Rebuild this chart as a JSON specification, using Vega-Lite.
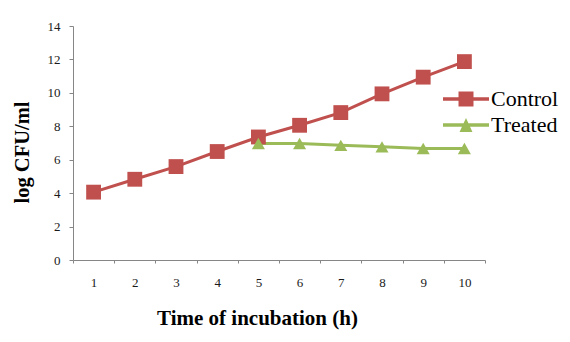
{
  "$schema": "https://vega.github.io/schema/vega-lite/v6.json",
  "autosize": {"type": "none"},
  "padding": {"left": 73, "top": 26, "right": 85, "bottom": 82},
  "width": 412,
  "height": 234,
  "background": "white",
  "config": {
    "view": {"stroke": null},
    "font": "Liberation Serif",
    "axis": {"grid": false, "domainColor": "#868686", "tickColor": "#868686", "labelFont": "Liberation Serif", "titleFont": "Liberation Serif", "labelColor": "#1a1a1a", "titleColor": "#000000"},
    "legend": {"labelFont": "Liberation Serif"}
  },
  "data": {
    "values": [
      {"t": 1, "series": "Control", "cfu": 4.06},
      {"t": 2, "series": "Control", "cfu": 4.83},
      {"t": 3, "series": "Control", "cfu": 5.59},
      {"t": 4, "series": "Control", "cfu": 6.49},
      {"t": 5, "series": "Control", "cfu": 7.36},
      {"t": 6, "series": "Control", "cfu": 8.06},
      {"t": 7, "series": "Control", "cfu": 8.82},
      {"t": 8, "series": "Control", "cfu": 9.94},
      {"t": 9, "series": "Control", "cfu": 10.94},
      {"t": 10, "series": "Control", "cfu": 11.87},
      {"t": 5, "series": "Treated", "cfu": 6.97},
      {"t": 6, "series": "Treated", "cfu": 6.97},
      {"t": 7, "series": "Treated", "cfu": 6.86},
      {"t": 8, "series": "Treated", "cfu": 6.77},
      {"t": 9, "series": "Treated", "cfu": 6.67},
      {"t": 10, "series": "Treated", "cfu": 6.67}
    ]
  },
  "encoding": {
    "x": {
      "field": "t", "type": "quantitative",
      "scale": {"domain": [0.5, 10.5], "nice": false, "zero": false},
      "axis": {
        "values": [0.5, 1.5, 2.5, 3.5, 4.5, 5.5, 6.5, 7.5, 8.5, 9.5, 10.5],
        "labelExpr": "datum.value < 10 ? format(datum.value + 0.5, 'd') : ''",
        "labelOffset": 20.6,
        "labelFlush": false,
        "labelFontSize": 13,
        "labelPadding": 13,
        "tickSize": 3,
        "title": "Time of incubation (h)",
        "titleFontSize": 21,
        "titleFontWeight": "bold",
        "titleX": 184,
        "titlePadding": 18
      }
    },
    "y": {
      "field": "cfu", "type": "quantitative",
      "scale": {"domain": [0, 14], "nice": false},
      "axis": {
        "values": [0, 2, 4, 6, 8, 10, 12, 14],
        "labelFontSize": 13,
        "labelPadding": 9,
        "tickSize": 4,
        "title": "log CFU/ml",
        "titleFontSize": 20.5,
        "titleFontWeight": "bold",
        "titlePadding": 15,
        "titleY": 126
      }
    },
    "color": {
      "field": "series", "type": "nominal",
      "scale": {"domain": ["Control", "Treated"], "range": ["#C0504D", "#9BBB59"]},
      "legend": {
        "title": null,
        "orient": "none",
        "legendX": 370,
        "legendY": 60,
        "padding": 0,
        "symbolSize": 2116,
        "clipHeight": 26,
        "rowPadding": 0,
        "labelOffset": 2,
        "labelFont": "Liberation Serif",
        "labelFontSize": 22,
        "labelColor": "#000000",
        "symbolStrokeWidth": 0,
        "encode": {
          "symbols": {
            "update": {
              "shape": {"signal": "datum.value === 'Control' ? 'M-1,-0.076H1V0.076H-1Z M-0.326,-0.326H0.326V0.326H-0.326Z' : 'M-1,-0.076H1V0.076H-1Z M0,-0.3L0.28,0.3H-0.28Z'"},
              "fill": {"signal": "scale('color', datum.value)"},
              "strokeWidth": {"value": 0},
              "opacity": {"value": 1},
              "fillOpacity": {"value": 1}
            }
          },
          "labels": {
            "update": {
              "font": {"value": "Liberation Serif"},
              "fontSize": {"value": 22},
              "fill": {"value": "#000000"}
            }
          }
        }
      }
    }
  },
  "layer": [
    {
      "mark": {"type": "line", "strokeWidth": 3}
    },
    {
      "transform": [{"filter": "datum.series === 'Control'"}],
      "mark": {"type": "point", "filled": true, "opacity": 1, "shape": "square", "size": 220}
    },
    {
      "transform": [{"filter": "datum.series === 'Treated'"}],
      "mark": {"type": "point", "filled": true, "opacity": 1, "shape": "triangle-up", "size": 170}
    }
  ]
}
